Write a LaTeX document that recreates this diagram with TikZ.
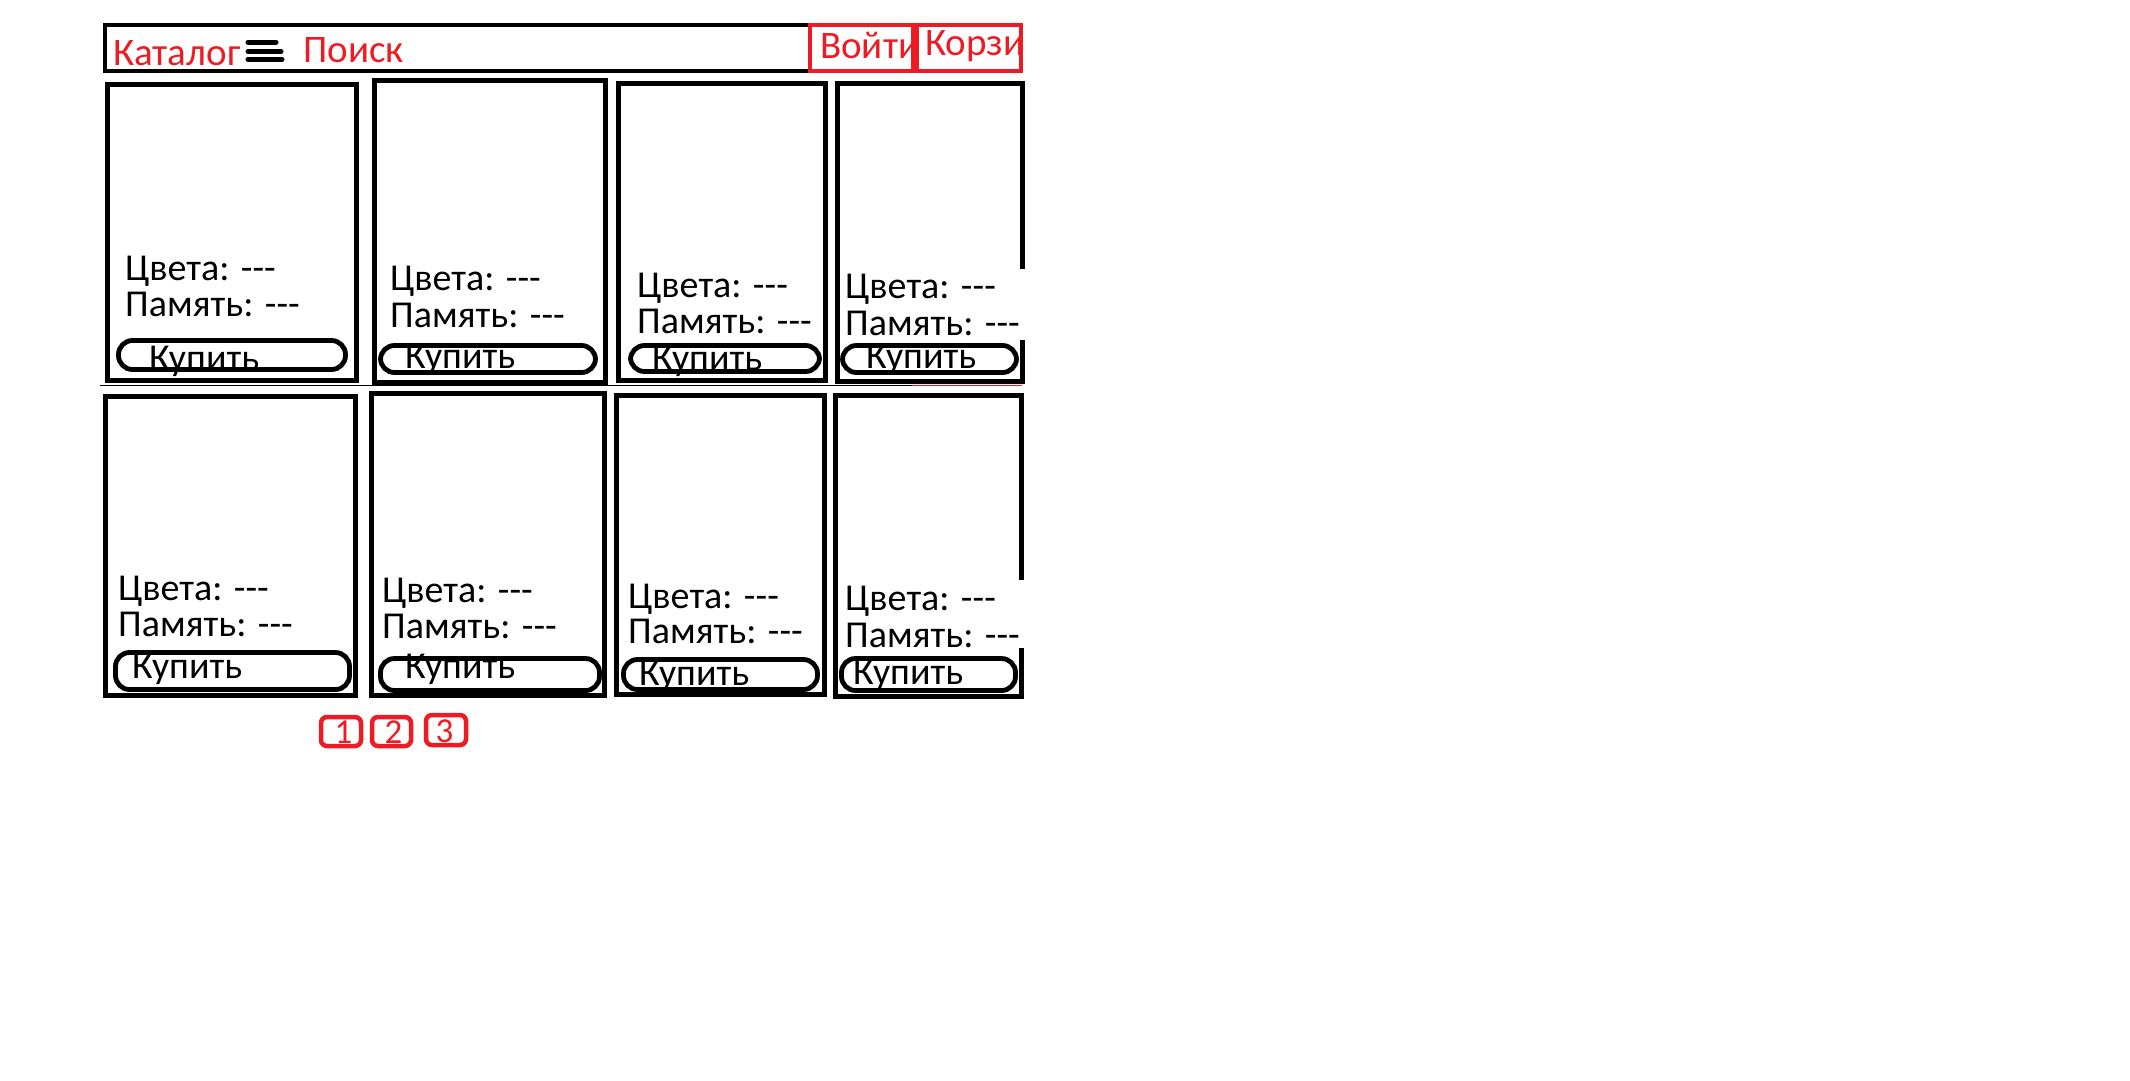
\documentclass[tikz,border=0pt]{standalone}
\usepackage{fontspec}
\setmainfont{Carlito}[Ligatures=TeXOff]
\definecolor{pred}{RGB}{237,28,36}
\tikzset{
  cardline/.style={draw=black,line width=5.2pt},
  btnline/.style={draw=black,line width=4.8pt,rounded corners=14pt},
  redline/.style={draw=pred,line width=4.5pt},
  pageline/.style={draw=pred,line width=4.5pt,rounded corners=6pt},
  cardtxt/.style={anchor=base west,inner sep=0pt,font=\fontsize{38}{38}\selectfont},
  hdrtxt/.style={anchor=base west,inner sep=0pt,text=pred,font=\fontsize{39}{39}\selectfont},
  pagetxt/.style={anchor=base,inner sep=0pt,text=pred,font=\fontsize{35}{35}\selectfont},
  burger/.style={draw=black,line width=5pt,line cap=round}
}
\begin{document}
\begin{tikzpicture}[x=1pt,y=-1pt]
\useasboundingbox[fill=white] (0,0) rectangle (2130,1080);
% thin stray line under first row
\draw[black,line width=1.8pt] (100,385.5) -- (912,385.5);
\draw[pred,line width=1.8pt] (912,385.5) -- (1022,385.5);
% header bar
\draw[cardline,line width=4.8pt] (105,25) rectangle (1021,71);
\node[hdrtxt] (catalog) at (113,65) {Каталог};
\draw[burger] (248,42.3) -- (276,42.3);
\draw[burger] (248,51.7) -- (281,51.7);
\draw[burger] (248,59.3) -- (282,59.3);
\node[hdrtxt] (search) at (303,62) {Поиск};
\begin{scope}
\clip (812,27) rectangle (911,69);
\node[hdrtxt] (login) at (820,58) {Войти};
\end{scope}
\begin{scope}
\clip (919,27) rectangle (1019,69);
\node[hdrtxt] (cart) at (925,55) {Корзи};
\end{scope}
\draw[redline] (810,25) rectangle (913,71);
\draw[redline] (917,25) rectangle (1021,71);
% cards, row 1
\draw[cardline] (107.5,84.5) rectangle (356.5,380.5);
\draw[cardline] (374.5,80.5) rectangle (605.5,382.5);
\draw[cardline] (618.5,83.5) rectangle (825.5,380.5);
\draw[cardline] (837.5,83.5) rectangle (1022.5,381.5);
% cards, row 2
\draw[cardline] (105.5,396.5) rectangle (355.5,695.5);
\draw[cardline] (371.5,393.5) rectangle (604.5,695.5);
\draw[cardline] (616.5,395.5) rectangle (824.5,694.5);
\draw[cardline] (835.5,395.5) rectangle (1021.5,696.5);
% white gaps in right borders
\fill[white] (1017,269) rectangle (1028,340);
\fill[white] (1017,580) rectangle (1028,648);
% buttons
\draw[btnline] (118.5,340.5) rectangle (345.5,369.5);
\draw[btnline] (380.5,345.5) rectangle (595.5,372.5);
\draw[btnline] (630.5,345.5) rectangle (819.5,371.5);
\draw[btnline] (842.5,345.5) rectangle (1016.5,372.5);
\draw[btnline] (115.5,652.5) rectangle (349.5,689.5);
\draw[btnline] (380.5,658.5) rectangle (599.5,690.5);
\draw[btnline] (623.5,659.5) rectangle (817.5,689.5);
\draw[btnline] (841.5,658.5) rectangle (1015.5,690.5);
% card texts row 1
\node[cardtxt] (c1a) at (125,280) {Цвета: ---};
\node[cardtxt] (c1b) at (125,316) {Память: ---};
\node[cardtxt] (c1c) at (149,370) {Купить};
\node[cardtxt] (c2a) at (390,290) {Цвета: ---};
\node[cardtxt] (c2b) at (390,327) {Память: ---};
\node[cardtxt] (c2c) at (405,368) {Купить};
\node[cardtxt] (c3a) at (637,297) {Цвета: ---};
\node[cardtxt] (c3b) at (637,333) {Память: ---};
\node[cardtxt] (c3c) at (652,370) {Купить};
\node[cardtxt] (c4a) at (845,298) {Цвета: ---};
\node[cardtxt] (c4b) at (845,335) {Память: ---};
\node[cardtxt] (c4c) at (866,368) {Купить};
% card texts row 2
\node[cardtxt] (c5a) at (118,600) {Цвета: ---};
\node[cardtxt] (c5b) at (118,636) {Память: ---};
\node[cardtxt] (c5c) at (132,678) {Купить};
\node[cardtxt] (c6a) at (382,602) {Цвета: ---};
\node[cardtxt] (c6b) at (382,638) {Память: ---};
\node[cardtxt] (c6c) at (405,678) {Купить};
\node[cardtxt] (c7a) at (628,608) {Цвета: ---};
\node[cardtxt] (c7b) at (628,643) {Память: ---};
\node[cardtxt] (c7c) at (639,685) {Купить};
\node[cardtxt] (c8a) at (845,610) {Цвета: ---};
\node[cardtxt] (c8b) at (845,647) {Память: ---};
\node[cardtxt] (c8c) at (853,684) {Купить};
% pagination
\draw[pageline] (321,717) rectangle (361,746);
\draw[pageline] (372,717) rectangle (411,746);
\draw[pageline] (426,715) rectangle (466,745);
\node[pagetxt] (p1) at (343.5,743) {1};
\node[pagetxt] (p2) at (393.5,743) {2};
\node[pagetxt] (p3) at (444.5,742) {3};
\end{tikzpicture}
\end{document}
